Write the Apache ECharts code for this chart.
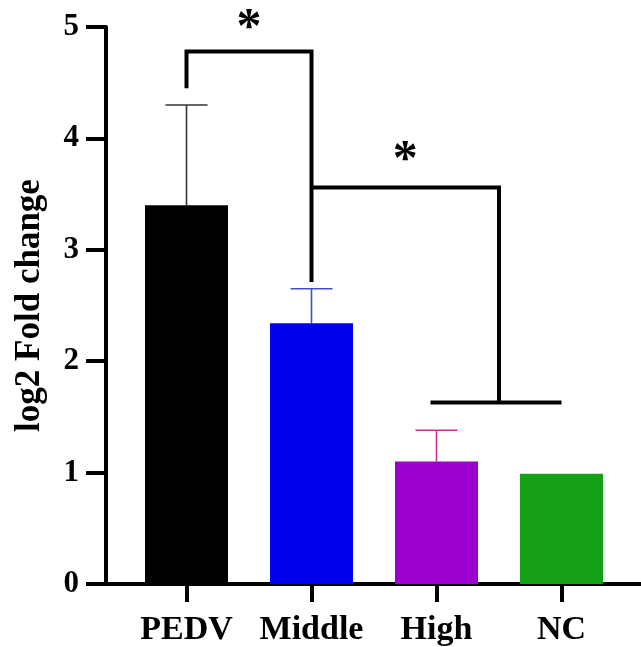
<!DOCTYPE html>
<html>
<head>
<meta charset="utf-8">
<script src="https://cdn.jsdelivr.net/npm/echarts@6/dist/echarts.min.js"></script>
<style>html,body{margin:0;padding:0;background:#fff;}#c{width:641px;height:647px;}</style>
</head>
<body>
<div id="c"></div>
<script>
// ---- data ----
const categories = ['PEDV', 'Middle', 'High', 'NC'];
const means = [3.40, 2.34, 1.10, 0.99];
const upperErr = [4.30, 2.65, 1.38, null];
const barColors = ['#000000', '#0000ee', '#9c00cf', '#14a014'];
const errColors = ['#333333', '#3a4fd6', '#c8328c', '#14a014'];
const yTicks = [0, 1, 2, 3, 4, 5];
// bracket 1: [fromIdx, toIdx, top, leftBottom, rightBottom, starY]
const bracket1 = [0, 1, 4.78, 4.45, 2.71, 4.98];
// bracket 2: [fromIdx, groupStartIdx, groupEndIdx, top, bottom, starY]
const bracket2 = [1, 2, 3, 3.56, 1.63, 3.80];

const FONT = '"Liberation Serif", "Times New Roman", serif';
const chart = echarts.init(document.getElementById('c'), null, {renderer: 'canvas'});

const lineStyle = {stroke: '#000', lineWidth: 4, fill: null, lineJoin: 'miter', lineCap: 'butt'};

const option = {
  backgroundColor: '#fff',
  animation: false,
  grid: [
    {left: 106, right: 0, top: 27, bottom: 63},
    {left: 124, width: 500, top: 27, bottom: 63}
  ],
  xAxis: [
    {gridIndex: 0, type: 'value', min: 0, max: 1,
     axisLine: {show: true, lineStyle: {color: '#000', width: 4}},
     axisTick: {show: false}, axisLabel: {show: false}, splitLine: {show: false}},
    {gridIndex: 1, type: 'category', data: categories,
     axisLine: {show: false},
     axisTick: {show: true, alignWithLabel: true, interval: 0, length: 18, lineStyle: {color: '#000', width: 4}},
     axisLabel: {interval: 0, hideOverlap: false, color: '#000', fontFamily: FONT, fontWeight: 'bold', fontSize: 34, margin: 29},
     splitLine: {show: false}}
  ],
  yAxis: [
    {gridIndex: 0, type: 'value', min: yTicks[0], max: yTicks[yTicks.length - 1], interval: 1,
     name: 'log2 Fold change', nameLocation: 'middle', nameRotate: 90, nameGap: 59,
     nameTextStyle: {color: '#000', fontFamily: FONT, fontWeight: 'bold', fontSize: 35},
     axisLine: {show: true, lineStyle: {color: '#000', width: 4}},
     axisTick: {show: true, length: 20, lineStyle: {color: '#000', width: 4}},
     axisLabel: {color: '#000', fontFamily: FONT, fontWeight: 'bold', fontSize: 31, margin: 27},
     splitLine: {show: false}},
    {gridIndex: 1, type: 'value', min: yTicks[0], max: yTicks[yTicks.length - 1], interval: 1,
     show: false, splitLine: {show: false}}
  ],
  series: [
    {
      type: 'bar', xAxisIndex: 1, yAxisIndex: 1, barWidth: 83,
      data: means.map((v, i) => ({value: v, itemStyle: {color: barColors[i]}})),
      z: 2
    },
    {
      type: 'custom', xAxisIndex: 1, yAxisIndex: 1, clip: false, z: 3,
      data: means.map((m, i) => [i, m, upperErr[i]]).filter(d => d[2] != null),
      renderItem: function (params, api) {
        const i = api.value(0);
        const p0 = api.coord([i, api.value(1)]);
        const p1 = api.coord([i, api.value(2)]);
        const hw = 21;
        const col = errColors[i];
        return {type: 'group', children: [
          {type: 'line', shape: {x1: p0[0], y1: p0[1], x2: p1[0], y2: p1[1]}, style: {stroke: col, lineWidth: 1.6}},
          {type: 'line', shape: {x1: p1[0] - hw, y1: p1[1], x2: p1[0] + hw, y2: p1[1]}, style: {stroke: col, lineWidth: 1.6}}
        ]};
      }
    },
    {
      type: 'custom', xAxisIndex: 1, yAxisIndex: 1, clip: false, z: 4,
      data: [bracket1],
      renderItem: function (params, api) {
        const a = api.value(0), b = api.value(1);
        const top = api.value(2), lb = api.value(3), rb = api.value(4), sy = api.value(5);
        const pA = api.coord([a, lb]), pAt = api.coord([a, top]);
        const pBt = api.coord([b, top]), pB = api.coord([b, rb]);
        const ps = api.coord([a, sy]);
        const sx = (pA[0] + pB[0]) / 2;
        return {type: 'group', children: [
          {type: 'polyline', shape: {points: [pA, pAt, pBt, pB]}, style: lineStyle},
          {type: 'text', style: {text: '*', x: sx, y: ps[1], align: 'center', verticalAlign: 'middle',
            fontFamily: FONT, fontWeight: 'bold', fontSize: 50, fill: '#000'}}
        ]};
      }
    },
    {
      type: 'custom', xAxisIndex: 1, yAxisIndex: 1, clip: false, z: 4,
      data: [bracket2],
      renderItem: function (params, api) {
        const a = api.value(0), g0 = api.value(1), g1 = api.value(2);
        const top = api.value(3), bot = api.value(4), sy = api.value(5);
        const pA = api.coord([a, top]);
        const pG0 = api.coord([g0, bot]), pG1 = api.coord([g1, bot]);
        const mx = (pG0[0] + pG1[0]) / 2;
        const ps = api.coord([a, sy]);
        const sx = (pA[0] + mx) / 2;
        return {type: 'group', children: [
          {type: 'polyline', shape: {points: [pA, [mx, pA[1]], [mx, pG0[1]]]}, style: lineStyle},
          {type: 'line', shape: {x1: pG0[0] - 6, y1: pG0[1], x2: pG1[0], y2: pG1[1]}, style: lineStyle},
          {type: 'text', style: {text: '*', x: sx, y: ps[1], align: 'center', verticalAlign: 'middle',
            fontFamily: FONT, fontWeight: 'bold', fontSize: 50, fill: '#000'}}
        ]};
      }
    }
  ]
};
chart.setOption(option);
</script>
</body>
</html>
